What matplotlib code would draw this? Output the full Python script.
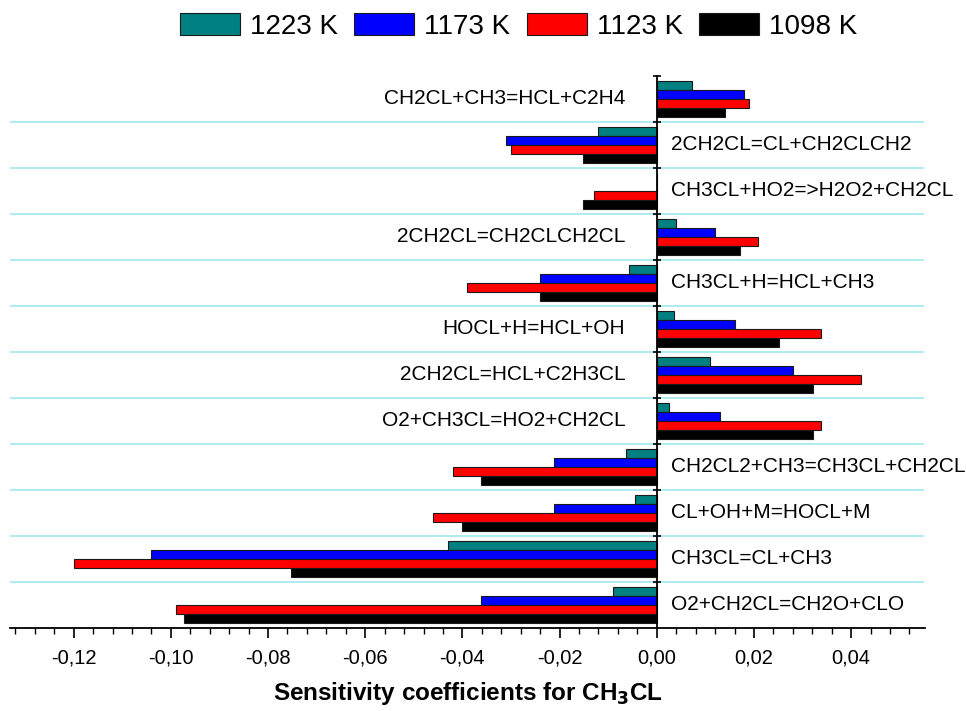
import matplotlib
matplotlib.use("Agg")
import matplotlib.pyplot as plt
from matplotlib.ticker import MultipleLocator, FuncFormatter, FixedLocator
from matplotlib.patches import Patch

plt.rcParams["font.family"] = ["Liberation Sans", "DejaVu Sans"]
plt.rcParams["axes.unicode_minus"] = False

reactions = [
    "CH2CL+CH3=HCL+C2H4",
    "2CH2CL=CL+CH2CLCH2",
    "CH3CL+HO2=>H2O2+CH2CL",
    "2CH2CL=CH2CLCH2CL",
    "CH3CL+H=HCL+CH3",
    "HOCL+H=HCL+OH",
    "2CH2CL=HCL+C2H3CL",
    "O2+CH3CL=HO2+CH2CL",
    "CH2CL2+CH3=CH3CL+CH2CL",
    "CL+OH+M=HOCL+M",
    "CH3CL=CL+CH3",
    "O2+CH2CL=CH2O+CLO",
]
temperatures = ["1223 K", "1173 K", "1123 K", "1098 K"]
s1223 = [0.0073, -0.0120, 0.0, 0.0039, -0.0058, 0.0036, 0.0110, 0.0025, -0.0064, -0.0045, -0.0430, -0.0090]
s1173 = [0.0180, -0.0311, 0.0, 0.0120, -0.0240, 0.0161, 0.0280, 0.0130, -0.0211, -0.0211, -0.1040, -0.0361]
s1123 = [0.0190, -0.0300, -0.0130, 0.0209, -0.0391, 0.0339, 0.0420, 0.0339, -0.0420, -0.0461, -0.1199, -0.0989]
s1098 = [0.0141, -0.0152, -0.0152, 0.0171, -0.0240, 0.0251, 0.0321, 0.0321, -0.0362, -0.0401, -0.0752, -0.0972]

series = [s1223, s1173, s1123, s1098]
colors = ["#008080", "#0000FF", "#FF0000", "#000000"]

fig = plt.figure(figsize=(9.66, 7.11), dpi=100)
ax = fig.add_axes([10 / 966, 1 - 628 / 711, (925 - 10) / 966, (628 - 76) / 711])

n = len(reactions)
bar_h = 0.2
for k, (vals, col) in enumerate(zip(series, colors)):
    ys = [n - i - 0.2 - bar_h * k for i in range(n)]
    ax.barh(ys, vals, height=bar_h, color=col, edgecolor="#1a1a1a",
            linewidth=0.8, zorder=3)

# separators between reaction rows
for b in range(1, n):
    ax.axhline(b, color="#A6EAEE", linewidth=1.3, zorder=1,
               xmax=(923 - 10) / (925 - 10))

# reaction names: on the opposite side of the bars
for i, name in enumerate(reactions):
    yc = n - i - 0.5
    total = s1223[i] + s1173[i] + s1123[i] + s1098[i]
    if total > 0:
        ax.text(-0.0065, yc, name, ha="right", va="center", fontsize=15, zorder=4)
    else:
        ax.text(0.0030, yc, name, ha="left", va="center", fontsize=15, zorder=4)

ax.set_xlim(-0.1331, 0.0552)
ax.set_ylim(0, n)

ax.spines["top"].set_visible(False)
ax.spines["right"].set_visible(False)
ax.spines["left"].set_position(("data", 0))
ax.spines["left"].set_linewidth(1.3)
ax.spines["bottom"].set_linewidth(1.3)
ax.spines["left"].set_zorder(5)

ax.xaxis.set_major_locator(MultipleLocator(0.02))
ax.xaxis.set_minor_locator(MultipleLocator(0.004))
ax.xaxis.set_major_formatter(FuncFormatter(
    lambda v, p: ("%.2f" % (0.0 if abs(v) < 1e-9 else v)).replace(".", ",")))
ax.tick_params(axis="x", which="major", direction="out", length=7, width=1.2,
               labelsize=14.5, pad=8)
ax.tick_params(axis="x", which="minor", direction="out", length=4, width=1.0)

ax.yaxis.set_major_locator(FixedLocator(list(range(1, n + 1))))
ax.yaxis.set_minor_locator(FixedLocator([]))
ax.tick_params(axis="y", which="major", direction="inout", length=6, width=1.2,
               labelleft=False)

ax.set_xlabel("Sensitivity coefficients for CH$_\\mathbf{3}$CL", fontsize=17.5,
              fontweight="bold", labelpad=9)

handles = [Patch(facecolor=c, edgecolor="#1a1a1a", linewidth=0.8, label=t)
           for c, t in zip(colors, temperatures)]
fig.legend(handles=handles, loc="center", bbox_to_anchor=(0.537, 0.963), ncol=4,
           frameon=False, fontsize=20, handlelength=2.16, handleheight=0.85,
           handletextpad=0.36, columnspacing=0.58)

fig.savefig("out.png", dpi=100)
